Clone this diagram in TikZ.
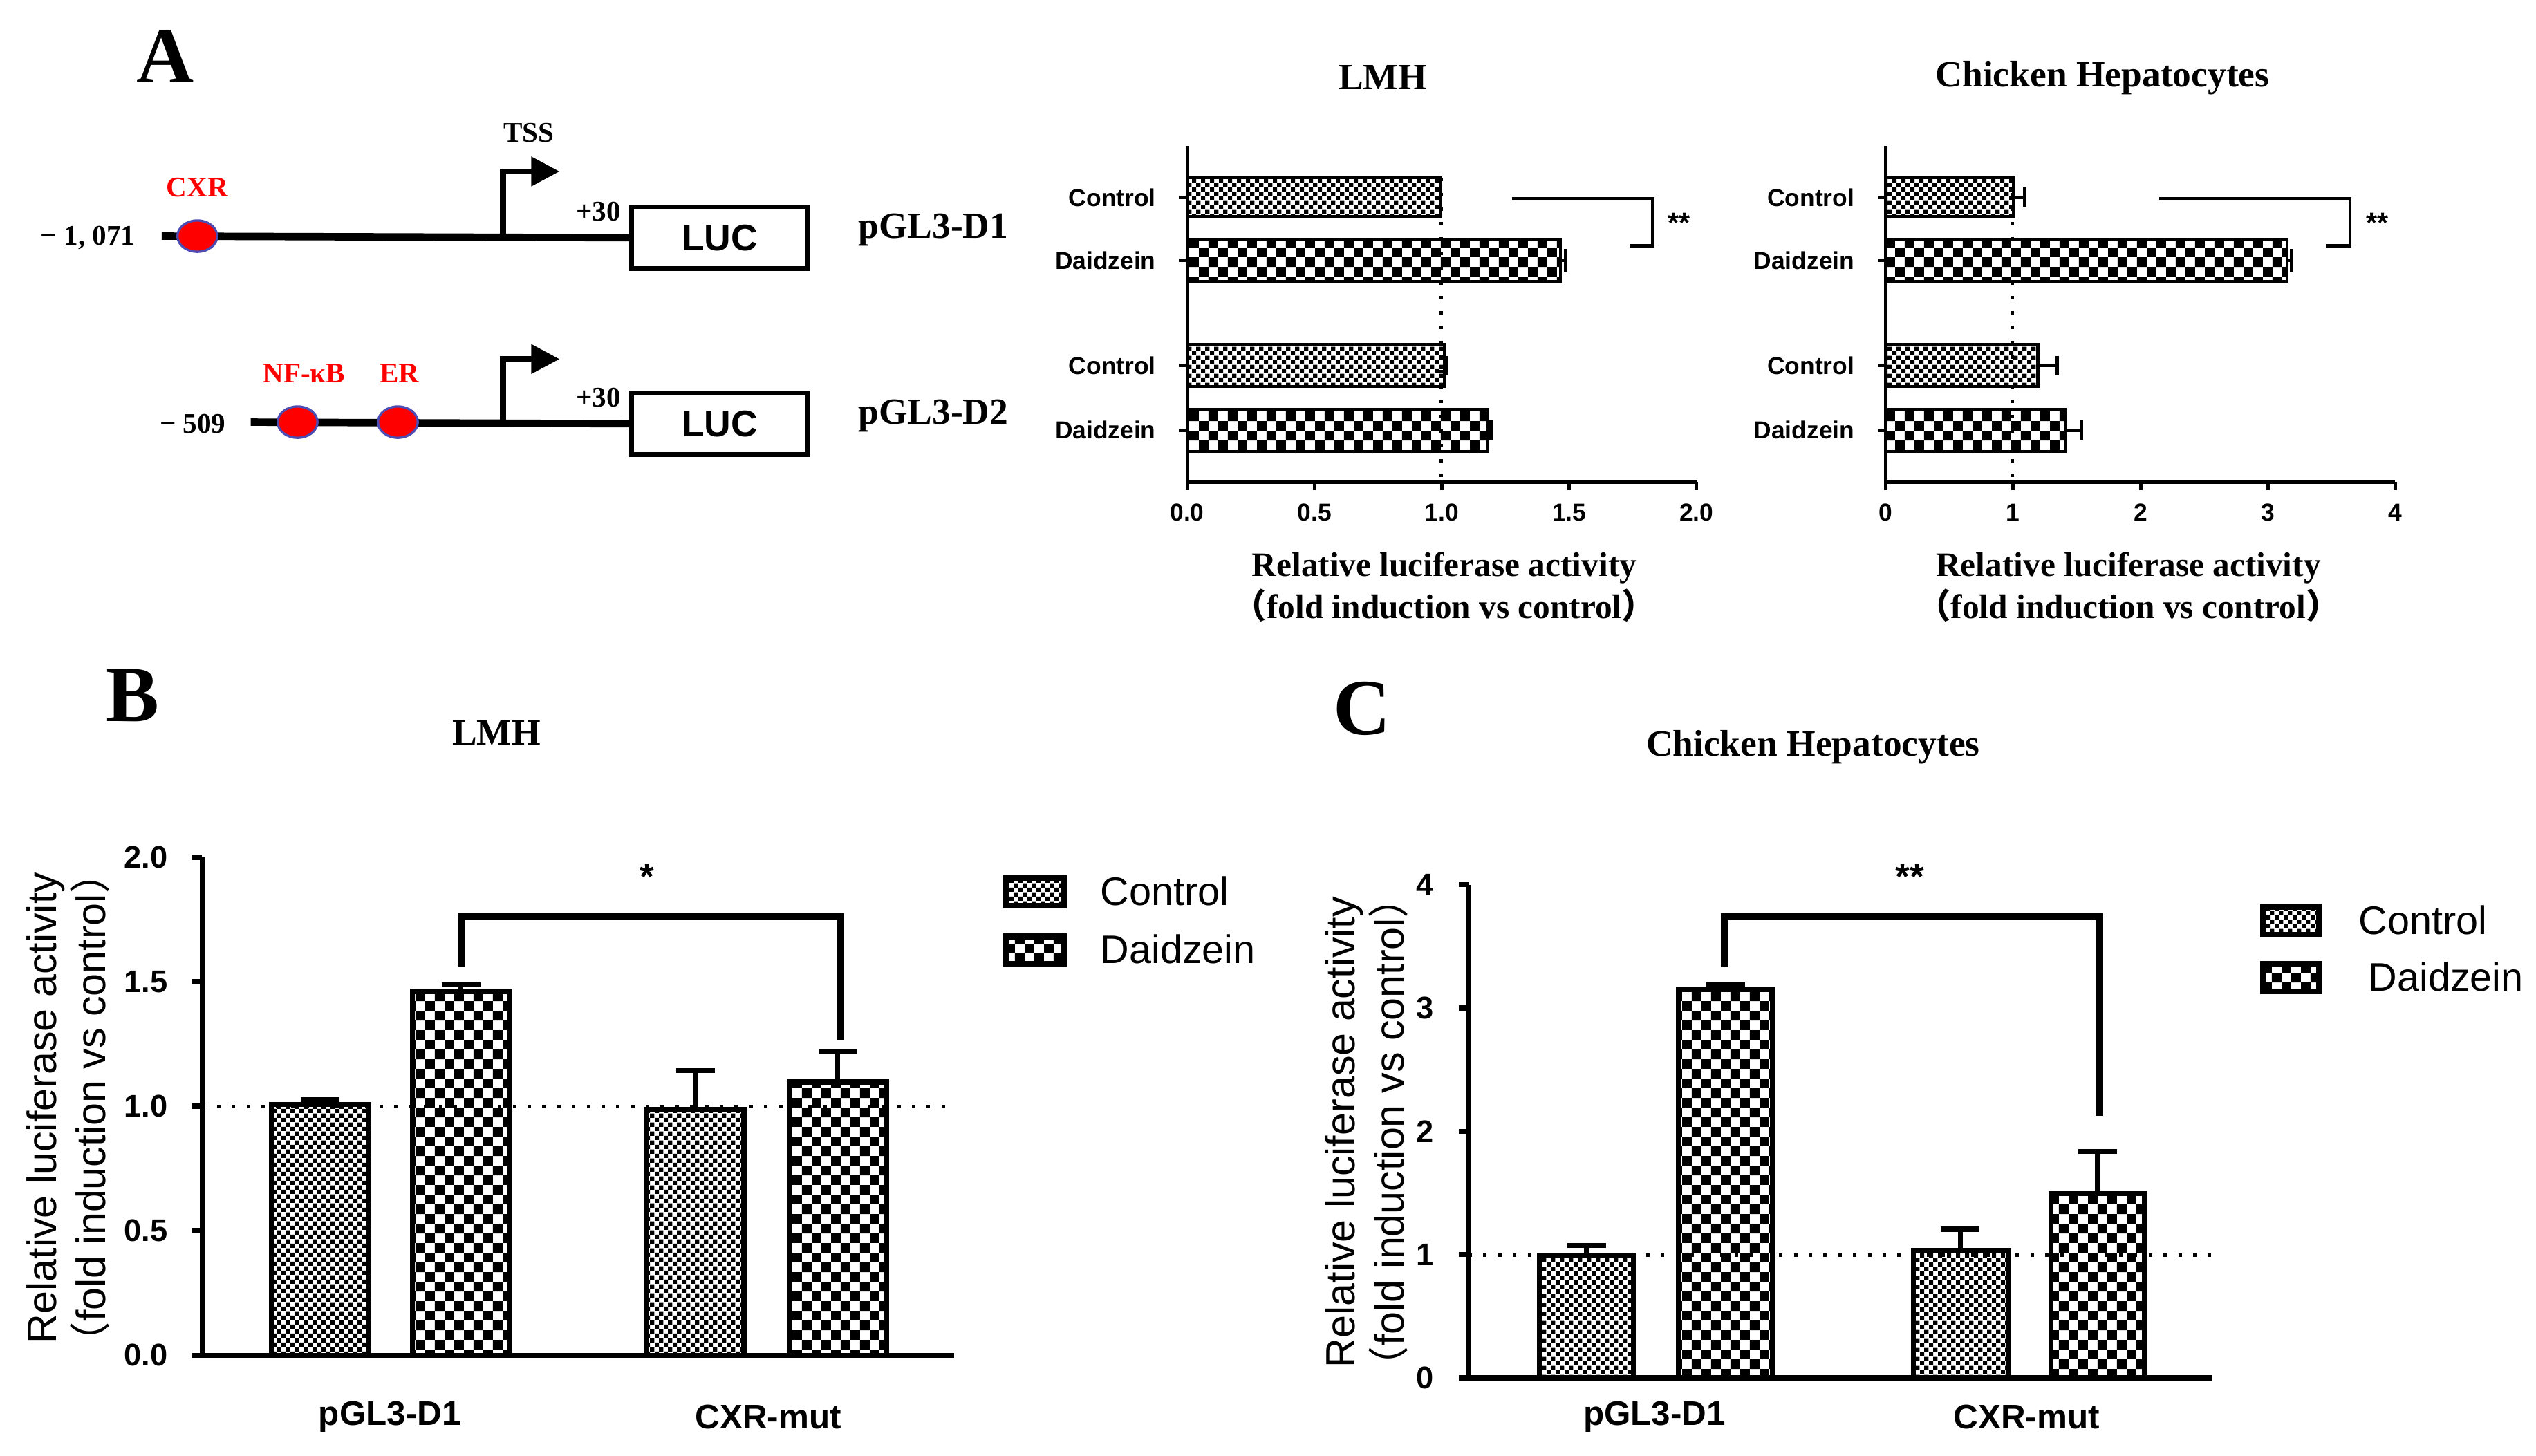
\documentclass[tikz,border=0pt]{standalone}
\usepackage{fontspec}
\setmainfont{Liberation Serif}
\setsansfont{Liberation Sans}
\newfontfamily\cjkf{Noto Sans CJK SC}
\newcommand{\lpar}{{\cjkf （}}
\newcommand{\rpar}{{\cjkf ）}}
\usetikzlibrary{patterns,arrows.meta,shapes.geometric}
\pgfdeclarepatternformonly{bigcheck}{\pgfpointorigin}{\pgfpoint{3.4pt}{3.4pt}}{\pgfpoint{3.4pt}{3.4pt}}{\pgfpathrectangle{\pgfpointorigin}{\pgfpoint{1.7pt}{1.7pt}}\pgfpathrectangle{\pgfpoint{1.7pt}{1.7pt}}{\pgfpoint{1.7pt}{1.7pt}}\pgfusepath{fill}}
\pgfdeclarepatternformonly{smallcheck}{\pgfpointorigin}{\pgfpoint{1.6pt}{1.6pt}}{\pgfpoint{1.6pt}{1.6pt}}{\pgfpathrectangle{\pgfpointorigin}{\pgfpoint{0.8pt}{0.8pt}}\pgfpathrectangle{\pgfpoint{0.8pt}{0.8pt}}{\pgfpoint{0.8pt}{0.8pt}}\pgfusepath{fill}}
\tikzset{
 ser/.style={font=\bfseries\fontsize{#1}{#1}\selectfont},
 san/.style={font=\sffamily\fontsize{#1}{#1}\selectfont},
 sanb/.style={font=\sffamily\bfseries\fontsize{#1}{#1}\selectfont},
 ctl/.style={draw=black,line width=0.5pt,pattern=smallcheck},
 dai/.style={draw=black,line width=0.5pt,pattern=bigcheck},
 ax/.style={line width=0.6pt},
 axB/.style={line width=0.9pt},
 dot/.style={dotted,line width=0.6pt},
 site/.style={ellipse,draw=gray!60!blue,fill=red,minimum width=7pt,minimum height=5.5pt,inner sep=0pt},
 luc/.style={draw,line width=0.9pt,minimum width=31pt,minimum height=10.8pt,font=\sffamily\bfseries\fontsize{6.5}{6.5}\selectfont,inner sep=0pt},
}
\begin{document}
\begin{tikzpicture}[x=0.01cm,y=-0.01cm]
\useasboundingbox (0,0) rectangle (1568,900);
% ---------- panel letters
\node[ser=14] (LA) at (102,35) {A};
\node[ser=14] (LB) at (82,430) {B};
\node[ser=14] (LC) at (842,438) {C};
% ---------- constructs
\node[luc] (luc1) at (445,147) {LUC};
\node[luc] (luc2) at (445,262) {LUC};
\coordinate (s1) at (100,146);
\draw[line width=1.3pt] (s1) -- (luc1.west);
\node[site] (cxr) at (122,146) {};
\node[ser=5,red] (cxrl) at (122,116) {CXR};
\node[ser=5,anchor=east] (n1071) at (96,147) {− 1, 071};
\draw[line width=1pt,-{Triangle[length=5pt,width=5pt]}] (311,146) -- (311,106) -- (346,106);
\node[ser=5] (tss) at (327,82) {TSS};
\node[ser=5] (p30a) at (370,131) {+30};
\node[ser=6.5] (d1) at (577,142) {pGL3-D1};
\coordinate (s2) at (155,261);
\draw[line width=1.3pt] (s2) -- (luc2.west);
\node[site] (nfk) at (184,261) {};
\node[site] (er) at (246,261) {};
\node[ser=5,red] (nfkl) at (188,231) {NF-κB};
\node[ser=5,red] (erl) at (247,231) {ER};
\node[ser=5,anchor=east] (n509) at (152,262) {− 509};
\draw[line width=1pt,-{Triangle[length=5pt,width=5pt]}] (311,261) -- (311,222) -- (346,222);
\node[ser=5] (p30b) at (370,246) {+30};
\node[ser=6.5] (d2) at (577,257) {pGL3-D2};
% ---------- A chart 1 (LMH)
\node[ser=6.5] (t1) at (855,48) {LMH};
\draw[ctl] (734,110) rectangle (891,134);
\draw[dai] (734,148) rectangle (965,174);
\draw[ctl] (734,213) rectangle (893,239);
\draw[dai] (734,253) rectangle (920,279);
\draw[ax] (965,161)--(968,161) (968,154)--(968,168);
\draw[ax] (920,266)--(922,266) (922,260)--(922,272);
\draw[ax] (893,226)--(894,226) (894,220)--(894,232);
\draw[dot] (891,110)--(891,298);
\draw[ax] (734,90)--(734,298)--(1049,298);
\foreach \v/\l in {0/0.0,1/0.5,2/1.0,3/1.5,4/2.0}{\draw[ax] (734+\v*78.75,298)--(734+\v*78.75,303); \node[sanb=4.3] at (734+\v*78.75,317) {\l};}
\foreach \y/\l in {122/Control,161/Daidzein,226/Control,266/Daidzein}{\draw[ax] (729,\y)--(734,\y); \node[sanb=4.3,anchor=east] at (727,\y) {\l};}
\draw[ax] (935,123)--(1022,123)--(1022,152)--(1008,152);
\node[sanb=5] (s1a) at (1038,138) {**};
\node[ser=6,align=center] (xl1) at (893,363) {Relative luciferase activity\\\lpar fold induction vs control\rpar};
% ---------- A chart 2
\node[ser=6.5] (t2) at (1300,48) {Chicken Hepatocytes};
\draw[ctl] (1166,110) rectangle (1245,134);
\draw[dai] (1166,148) rectangle (1414,174);
\draw[ctl] (1166,213) rectangle (1260,239);
\draw[dai] (1166,253) rectangle (1277,279);
\draw[ax] (1245,122)--(1252,122) (1252,116)--(1252,128);
\draw[ax] (1414,161)--(1417,161) (1417,154)--(1417,168);
\draw[ax] (1260,226)--(1272,226) (1272,220)--(1272,232);
\draw[ax] (1277,266)--(1287,266) (1287,260)--(1287,272);
\draw[dot] (1244,110)--(1244,298);
\draw[ax] (1166,90)--(1166,298)--(1481,298);
\foreach \v in {0,1,2,3,4}{\draw[ax] (1166+\v*78.75,298)--(1166+\v*78.75,303); \node[sanb=4.3] at (1166+\v*78.75,317) {\v};}
\foreach \y/\l in {122/Control,161/Daidzein,226/Control,266/Daidzein}{\draw[ax] (1161,\y)--(1166,\y); \node[sanb=4.3,anchor=east] at (1159,\y) {\l};}
\draw[ax] (1335,123)--(1453,123)--(1453,152)--(1438,152);
\node[sanb=5] (s2a) at (1470,138) {**};
\node[ser=6,align=center] (xl2) at (1316,363) {Relative luciferase activity\\\lpar fold induction vs control\rpar};
% ---------- B
\node[ser=6.5] (tB) at (307,453) {LMH};
\draw[ctl,line width=0.9pt] (168,838) rectangle (228,683);
\draw[dai,line width=0.9pt] (255,838) rectangle (315,613);
\draw[ctl,line width=0.9pt] (400,838) rectangle (460,686);
\draw[dai,line width=0.9pt] (488,838) rectangle (548,669);
\draw[axB] (198,683)--(198,680) (186,680)--(210,680);
\draw[axB] (285,613)--(285,609) (273,609)--(297,609);
\draw[axB] (430,686)--(430,662) (418,662)--(442,662);
\draw[axB] (518,669)--(518,650) (506,650)--(530,650);
\draw[dot] (125,684)--(590,684);
\draw[axB] (125,530)--(125,838)--(590,838);
\foreach \v/\l in {0/0.0,1/0.5,2/1.0,3/1.5,4/2.0}{\draw[axB] (119,838-\v*77)--(125,838-\v*77); \node[sanb=5.5,anchor=east] at (116,838-\v*77) {\l};}
\node[sanb=6] (xb1) at (241,876) {pGL3-D1};
\node[sanb=6] (xb2) at (475,876) {CXR-mut};
\draw[line width=1.2pt] (285,598)--(285,567)--(520,567)--(520,643);
\node[sanb=6.5] (sb) at (400,542) {*};
\node[san=7.2,align=center,rotate=90] (ylB) at (42,685) {Relative luciferase activity\\\lpar fold induction vs control\rpar};
\draw[ctl,line width=1pt] (622,543) rectangle (658,560);
\draw[dai,line width=1pt] (622,579) rectangle (658,596);
\node[san=7,anchor=west] (lb1) at (668,551) {Control};
\node[san=7,anchor=west] (lb2) at (668,587) {Daidzein};
% ---------- C
\node[ser=6.5] (tC) at (1121,462) {Chicken Hepatocytes};
\draw[ctl,line width=0.9pt] (952,852) rectangle (1010,776);
\draw[dai,line width=0.9pt] (1038,852) rectangle (1096,612);
\draw[ctl,line width=0.9pt] (1183,852) rectangle (1242,773);
\draw[dai,line width=0.9pt] (1268,852) rectangle (1326,738);
\draw[axB] (981,776)--(981,770) (969,770)--(993,770);
\draw[axB] (1067,612)--(1067,609) (1055,609)--(1079,609);
\draw[axB] (1212,773)--(1212,760) (1200,760)--(1224,760);
\draw[axB] (1297,738)--(1297,712) (1285,712)--(1309,712);
\draw[dot] (908,776)--(1368,776);
\draw[axB] (908,547)--(908,852)--(1368,852);
\foreach \v in {0,1,2,3,4}{\draw[axB] (902,852-\v*76.25)--(908,852-\v*76.25); \node[sanb=5.5,anchor=east] at (899,852-\v*76.25) {\v};}
\node[sanb=6] (xc1) at (1023,876) {pGL3-D1};
\node[sanb=6] (xc2) at (1253,876) {CXR-mut};
\draw[line width=1.2pt] (1066,598)--(1066,567)--(1298,567)--(1298,690);
\node[sanb=6.5] (sc) at (1181,542) {**};
\node[san=7.2,align=center,rotate=90] (ylC) at (845,700) {Relative luciferase activity\\\lpar fold induction vs control\rpar};
\draw[ctl,line width=1pt] (1399,561) rectangle (1434,578);
\draw[dai,line width=1pt] (1399,596) rectangle (1434,613);
\node[san=7,anchor=west] (lc1) at (1446,569) {Control};
\node[san=7,anchor=west] (lc2) at (1452,604) {Daidzein};
\end{tikzpicture}
\end{document}
